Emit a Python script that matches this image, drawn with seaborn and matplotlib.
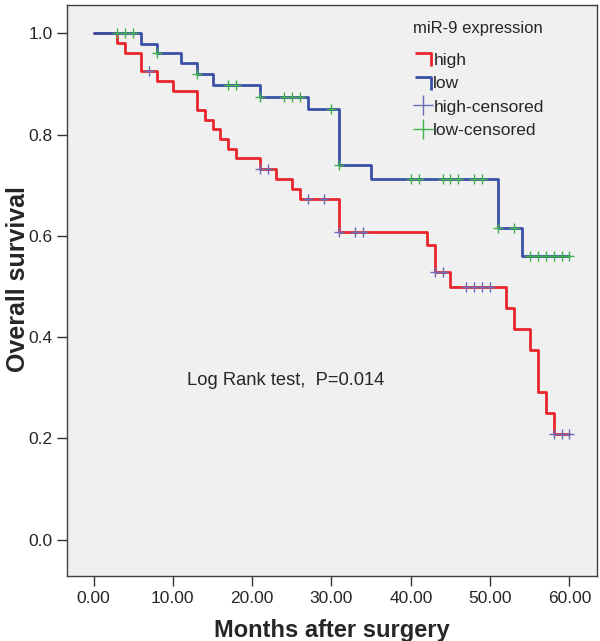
import matplotlib
matplotlib.use("Agg")
import matplotlib.pyplot as plt
import numpy as np
import seaborn as sns
from matplotlib.lines import Line2D
from matplotlib.path import Path

# Kaplan-Meier step curves
red_time = [0, 3, 4, 6, 8, 10, 13, 14, 15, 16, 17, 18, 21, 23, 25, 26, 31, 42, 43, 45, 52, 53, 55, 56, 57, 58, 60]
red_surv = [1.0, 0.981, 0.962, 0.925, 0.906, 0.887, 0.849, 0.830, 0.811, 0.792, 0.772, 0.753, 0.733, 0.712,
            0.692, 0.672, 0.607, 0.582, 0.529, 0.500, 0.458, 0.416, 0.375, 0.292, 0.250, 0.209, 0.209]

blue_time = [0, 6, 8, 11, 13, 15, 21, 27, 31, 35, 51, 54, 60]
blue_surv = [1.0, 0.980, 0.961, 0.941, 0.920, 0.898, 0.875, 0.850, 0.740, 0.712, 0.616, 0.561, 0.561]

# censored cases
red_cens_time = [7, 21, 22, 27, 29, 31, 33, 34, 43, 44, 47, 48, 49, 50, 58, 59, 60]
red_cens_surv = [0.925, 0.733, 0.733, 0.672, 0.672, 0.607, 0.607, 0.607, 0.529, 0.529,
                 0.500, 0.500, 0.500, 0.500, 0.209, 0.209, 0.209]

blue_cens_time = [3, 4, 5, 8, 13, 17, 18, 21, 24, 25, 26, 30, 31, 40, 41, 44, 45, 46, 48, 49,
                  51, 53, 55, 56, 57, 58, 59, 60]
blue_cens_surv = [1.0, 1.0, 1.0, 0.961, 0.920, 0.898, 0.898, 0.875, 0.875, 0.875, 0.875, 0.850, 0.740,
                  0.712, 0.712, 0.712, 0.712, 0.712, 0.712, 0.712, 0.616, 0.616,
                  0.561, 0.561, 0.561, 0.561, 0.561, 0.561]

x_ticks = [0, 10, 20, 30, 40, 50, 60]
y_ticks = [0.0, 0.2, 0.4, 0.6, 0.8, 1.0]

RED = "#e8262c"
BLUE = "#3a50a6"
CENS_HIGH = "#6a6cb8"
CENS_LOW = "#3fb24a"

sns.set_style("ticks", {"axes.facecolor": "#f0f0f0"})
plt.rcParams["font.family"] = ["Liberation Sans", "DejaVu Sans"]

fig = plt.figure(figsize=(6, 6.41), dpi=100)
ax = fig.add_axes([0.1117, 0.1014, 0.8833, 0.8906])

sns.lineplot(x=red_time, y=red_surv, drawstyle="steps-post", color=RED, linewidth=2, ax=ax)
sns.lineplot(x=blue_time, y=blue_surv, drawstyle="steps-post", color=BLUE, linewidth=2, ax=ax)
sns.scatterplot(x=red_cens_time, y=red_cens_surv, marker="+", s=42, color=CENS_HIGH,
                linewidth=1, ax=ax, zorder=4)
sns.scatterplot(x=blue_cens_time, y=blue_cens_surv, marker="+", s=42, color=CENS_LOW,
                linewidth=1, ax=ax, zorder=4)

ax.set_xlim(-3.34, 63.47)
ax.set_ylim(-0.072, 1.056)
ax.set_xticks(x_ticks)
ax.set_xticklabels([f"{v:.2f}" for v in x_ticks])
ax.set_yticks(y_ticks)
ax.set_yticklabels([f"{v:.1f}" for v in y_ticks])
ax.tick_params(axis="both", labelsize=12.5, length=7, width=1, color="#333333", direction="out")
for sp in ax.spines.values():
    sp.set_visible(True)
    sp.set_color("#404040")
    sp.set_linewidth(1)

ax.set_xlabel("Months after surgery", fontsize=17, fontweight="bold", labelpad=10)
ax.set_ylabel("Overall survival", fontsize=18, fontweight="bold")
ax.yaxis.set_label_coords(-0.07, 0.52)

ax.text(11.8, 0.315, "Log Rank test,  P=0.014", fontsize=13.2, va="center", ha="left")

step = Path([(-1.0, 0.6), (1.0, 0.6), (1.0, -1.0)])
handles = [
    Line2D([], [], linestyle="none", marker=step, markersize=11, markerfacecolor="none",
           markeredgecolor=RED, markeredgewidth=2),
    Line2D([], [], linestyle="none", marker=step, markersize=11, markerfacecolor="none",
           markeredgecolor=BLUE, markeredgewidth=2),
    Line2D([], [], linestyle="none", marker="+", markersize=14, markeredgecolor=CENS_HIGH,
           markeredgewidth=1),
    Line2D([], [], linestyle="none", marker="+", markersize=14, markeredgecolor=CENS_LOW,
           markeredgewidth=1),
]
leg = ax.legend(handles, ["high", "low", "high-censored", "low-censored"],
                title="miR-9 expression", loc="upper left", bbox_to_anchor=(0.624, 1.0),
                frameon=False, fontsize=12.5, title_fontsize=12, alignment="left",
                handlelength=1.1, handletextpad=0.05, labelspacing=0.48)
leg._legend_box.sep = 12

fig.savefig("out.png", dpi=100)
